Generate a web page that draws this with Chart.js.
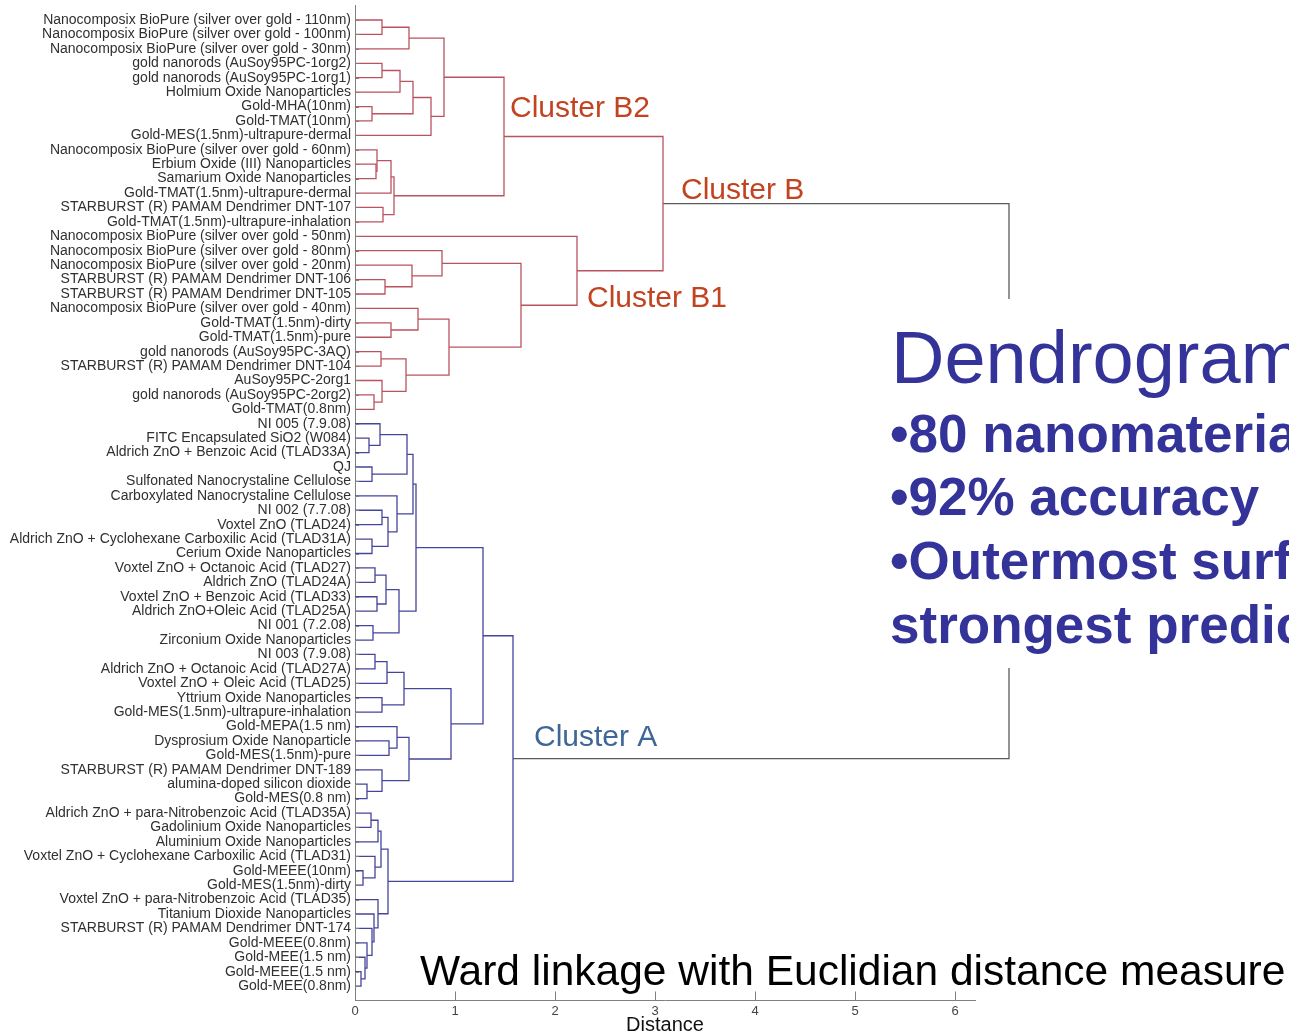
<!DOCTYPE html>
<html>
<head>
<meta charset="utf-8">
<script src="https://cdn.jsdelivr.net/npm/chart.js@4.4.1/dist/chart.umd.min.js"></script>
<style>
  html, body { margin: 0; padding: 0; background: #fff; overflow: hidden; }
  #wrap { width: 1289px; height: 1035px; position: relative; }
</style>
</head>
<body>
<div id="wrap"><canvas id="c" width="1289" height="1035"></canvas></div>
<script>
// Leaf labels, top to bottom
const leafLabels = [
  'Nanocomposix BioPure (silver over gold - 110nm)',
  'Nanocomposix BioPure (silver over gold - 100nm)',
  'Nanocomposix BioPure (silver over gold - 30nm)',
  'gold nanorods (AuSoy95PC-1org2)',
  'gold nanorods (AuSoy95PC-1org1)',
  'Holmium Oxide Nanoparticles',
  'Gold-MHA(10nm)',
  'Gold-TMAT(10nm)',
  'Gold-MES(1.5nm)-ultrapure-dermal',
  'Nanocomposix BioPure (silver over gold - 60nm)',
  'Erbium Oxide (III) Nanoparticles',
  'Samarium Oxide Nanoparticles',
  'Gold-TMAT(1.5nm)-ultrapure-dermal',
  'STARBURST (R) PAMAM Dendrimer DNT-107',
  'Gold-TMAT(1.5nm)-ultrapure-inhalation',
  'Nanocomposix BioPure (silver over gold - 50nm)',
  'Nanocomposix BioPure (silver over gold - 80nm)',
  'Nanocomposix BioPure (silver over gold - 20nm)',
  'STARBURST (R) PAMAM Dendrimer DNT-106',
  'STARBURST (R) PAMAM Dendrimer DNT-105',
  'Nanocomposix BioPure (silver over gold - 40nm)',
  'Gold-TMAT(1.5nm)-dirty',
  'Gold-TMAT(1.5nm)-pure',
  'gold nanorods (AuSoy95PC-3AQ)',
  'STARBURST (R) PAMAM Dendrimer DNT-104',
  'AuSoy95PC-2org1',
  'gold nanorods (AuSoy95PC-2org2)',
  'Gold-TMAT(0.8nm)',
  'NI 005 (7.9.08)',
  'FITC Encapsulated SiO2 (W084)',
  'Aldrich ZnO + Benzoic Acid (TLAD33A)',
  'QJ',
  'Sulfonated Nanocrystaline Cellulose',
  'Carboxylated Nanocrystaline Cellulose',
  'NI 002 (7.7.08)',
  'Voxtel ZnO (TLAD24)',
  'Aldrich ZnO + Cyclohexane Carboxilic Acid (TLAD31A)',
  'Cerium Oxide Nanoparticles',
  'Voxtel ZnO + Octanoic Acid (TLAD27)',
  'Aldrich ZnO (TLAD24A)',
  'Voxtel ZnO + Benzoic Acid (TLAD33)',
  'Aldrich ZnO+Oleic Acid (TLAD25A)',
  'NI 001 (7.2.08)',
  'Zirconium Oxide Nanoparticles',
  'NI 003 (7.9.08)',
  'Aldrich ZnO + Octanoic Acid (TLAD27A)',
  'Voxtel ZnO + Oleic Acid (TLAD25)',
  'Yttrium Oxide Nanoparticles',
  'Gold-MES(1.5nm)-ultrapure-inhalation',
  'Gold-MEPA(1.5 nm)',
  'Dysprosium Oxide Nanoparticle',
  'Gold-MES(1.5nm)-pure',
  'STARBURST (R) PAMAM Dendrimer DNT-189',
  'alumina-doped silicon dioxide',
  'Gold-MES(0.8 nm)',
  'Aldrich ZnO + para-Nitrobenzoic Acid (TLAD35A)',
  'Gadolinium Oxide Nanoparticles',
  'Aluminium Oxide Nanoparticles',
  'Voxtel ZnO + Cyclohexane Carboxilic Acid (TLAD31)',
  'Gold-MEEE(10nm)',
  'Gold-MES(1.5nm)-dirty',
  'Voxtel ZnO + para-Nitrobenzoic Acid (TLAD35)',
  'Titanium Dioxide Nanoparticles',
  'STARBURST (R) PAMAM Dendrimer DNT-174',
  'Gold-MEEE(0.8nm)',
  'Gold-MEE(1.5 nm)',
  'Gold-MEEE(1.5 nm)',
  'Gold-MEE(0.8nm)'
];

// Merges: [node id, child, child, distance]; numeric children are leaf positions (1 = top)
const clusterB2Merges = [
  ['b2a', 1, 2, 0.27], ['b2b', 'b2a', 3, 0.54],
  ['b2c', 4, 5, 0.27], ['b2d', 'b2c', 6, 0.45],
  ['b2e', 7, 8, 0.17], ['b2f', 'b2d', 'b2e', 0.58],
  ['b2g', 'b2f', 9, 0.76], ['b2h', 'b2b', 'b2g', 0.89],
  ['b2i', 11, 12, 0.21], ['b2j', 10, 'b2i', 0.22],
  ['b2k', 'b2j', 13, 0.36], ['b2l', 14, 15, 0.28],
  ['b2m', 'b2k', 'b2l', 0.39], ['B2', 'b2h', 'b2m', 1.49]
];
const clusterB1Merges = [
  ['b1a', 19, 20, 0.30], ['b1b', 18, 'b1a', 0.57], ['b1c', 17, 'b1b', 0.87],
  ['b1d', 22, 23, 0.36], ['b1e', 21, 'b1d', 0.63],
  ['b1f', 24, 25, 0.26], ['b1g', 27, 28, 0.19], ['b1h', 26, 'b1g', 0.27],
  ['b1i', 'b1f', 'b1h', 0.51], ['b1j', 'b1e', 'b1i', 0.94],
  ['b1k', 'b1c', 'b1j', 1.66], ['B1', 16, 'b1k', 2.22],
  ['B', 'B2', 'B1', 3.08]
];
const clusterAMerges = [
  ['a1', 30, 31, 0.14], ['a2', 29, 'a1', 0.25], ['a3', 32, 33, 0.17], ['a4', 'a2', 'a3', 0.52],
  ['a5', 35, 36, 0.27], ['a6', 37, 38, 0.17], ['a7', 'a5', 'a6', 0.33], ['a8', 34, 'a7', 0.42],
  ['a9', 'a4', 'a8', 0.58],
  ['a10', 39, 40, 0.20], ['a11', 41, 42, 0.22], ['a12', 'a10', 'a11', 0.31],
  ['a13', 43, 44, 0.18], ['a14', 'a12', 'a13', 0.44], ['a15', 'a9', 'a14', 0.61],
  ['a16', 45, 46, 0.20], ['a17', 'a16', 47, 0.32], ['a18', 48, 49, 0.27], ['a19', 'a17', 'a18', 0.49],
  ['a20', 51, 52, 0.34], ['a21', 50, 'a20', 0.42], ['a22', 54, 55, 0.12], ['a23', 53, 'a22', 0.27],
  ['a24', 'a21', 'a23', 0.54], ['a25', 'a19', 'a24', 0.96], ['a26', 'a15', 'a25', 1.28],
  ['a27', 56, 57, 0.16], ['a28', 'a27', 58, 0.23], ['a29', 60, 61, 0.08], ['a30', 59, 'a29', 0.20],
  ['a31', 'a28', 'a30', 0.26],
  ['a32', 67, 68, 0.06], ['a33', 66, 'a32', 0.10], ['a34', 65, 'a33', 0.12],
  ['a35', 64, 'a34', 0.17], ['a36', 63, 'a35', 0.19], ['a37', 62, 'a36', 0.23],
  ['a38', 'a31', 'a37', 0.33], ['A', 'a26', 'a38', 1.58]
];
const rootMerges = [['root', 'B', 'A', 6.54]];

const distanceTicks = [0, 1, 2, 3, 4, 5, 6];

// Node positions: height = merge distance, row = mean of child rows
const nodeRow = {}, nodeHeight = {};
const rowOf = c => typeof c === 'number' ? c : nodeRow[c];
const heightOf = c => typeof c === 'number' ? 0 : nodeHeight[c];

function linkDatasets(merges, color) {
  return merges.map(([id, a, b, h]) => {
    const ya = rowOf(a), yb = rowOf(b);
    nodeRow[id] = (ya + yb) / 2;
    nodeHeight[id] = h;
    return {
      data: [
        { x: heightOf(a), y: ya }, { x: h, y: ya },
        { x: h, y: yb }, { x: heightOf(b), y: yb }
      ],
      borderColor: color,
      borderWidth: 1.3,
      pointRadius: 0,
      fill: false,
      tension: 0,
      clip: false
    };
  });
}

const datasets = [
  ...linkDatasets(clusterB2Merges, '#b9535f'),
  ...linkDatasets(clusterB1Merges, '#b9535f'),
  ...linkDatasets(clusterAMerges, '#45459a'),
  ...linkDatasets(rootMerges, '#5a5a5a')
];

const FONT = '"Liberation Sans", Arial, Helvetica, sans-serif';

// Inner tick marks, annotation box and captions
const decorations = {
  id: 'decorations',
  afterDraw(chart) {
    const { ctx, scales: { x, y }, chartArea } = chart;
    ctx.save();
    ctx.strokeStyle = '#808080';
    ctx.lineWidth = 1;
    ctx.beginPath();
    leafLabels.forEach((_, i) => {
      const py = Math.round(y.getPixelForValue(i + 1)) + 0.5;
      ctx.moveTo(chartArea.left, py);
      ctx.lineTo(chartArea.left + 4, py);
    });
    distanceTicks.forEach(v => {
      const px = Math.round(x.getPixelForValue(v)) + 0.5;
      ctx.moveTo(px, chartArea.bottom);
      ctx.lineTo(px, chartArea.bottom - 9);
    });
    ctx.stroke();

    // cluster captions
    ctx.textBaseline = 'alphabetic';
    ctx.textAlign = 'left';
    ctx.font = '30px ' + FONT;
    ctx.fillStyle = '#c2431f';
    ctx.fillText('Cluster B2', 510, 117);
    ctx.fillText('Cluster B', 681, 199);
    ctx.fillText('Cluster B1', 587, 307);
    ctx.fillStyle = '#3e6696';
    ctx.fillText('Cluster A', 534, 746);

    // summary panel
    ctx.fillStyle = '#ffffff';
    ctx.fillRect(875, 299, 414, 369);
    ctx.fillStyle = '#333399';
    ctx.font = '74px ' + FONT;
    ctx.fillText('Dendrogram', 891, 383);
    ctx.font = 'bold 53px ' + FONT;
    ctx.fillText('\u202280 nanomaterials', 890, 452);
    ctx.fillText('\u202292% accuracy', 890, 515);
    ctx.fillText('\u2022Outermost surface chemistry', 890, 579);
    ctx.fillText('strongest predictor', 890, 643);

    // method caption
    ctx.fillStyle = '#000000';
    ctx.font = '42.5px ' + FONT;
    ctx.fillText('Ward linkage with Euclidian distance measure', 420, 985);
    ctx.restore();
  }
};

new Chart(document.getElementById('c'), {
  type: 'line',
  data: { datasets },
  plugins: [decorations],
  options: {
    responsive: false,
    animation: false,
    events: [],
    layout: { padding: { top: 5.6, right: 314, left: 0, bottom: 0 } },
    plugins: { legend: { display: false }, tooltip: { enabled: false }, title: { display: false } },
    scales: {
      x: {
        type: 'linear',
        position: 'bottom',
        min: 0,
        max: 6.2,
        afterBuildTicks: s => { s.ticks = distanceTicks.map(v => ({ value: v })); },
        afterFit: s => { s.height = 34.5; s.paddingLeft = 0; s.paddingRight = 0; },
        ticks: { font: { family: FONT, size: 13 }, color: '#444', padding: 3, maxRotation: 0 },
        grid: { display: true, drawOnChartArea: false, drawTicks: false },
        border: { display: true, color: '#808080', width: 1 },
        title: { display: true, text: 'Distance', font: { family: FONT, size: 20 }, color: '#111', padding: { top: 0, bottom: -2 } }
      },
      y: {
        type: 'linear',
        reverse: true,
        min: 0,
        max: 69,
        afterBuildTicks: s => { s.ticks = leafLabels.map((_, i) => ({ value: i + 1 })); },
        afterFit: s => { s.width = 355; s.paddingTop = 0; s.paddingBottom = 0; },
        ticks: {
          autoSkip: false,
          font: { family: FONT, size: 14 },
          color: '#303030',
          padding: 4,
          callback: v => leafLabels[v - 1]
        },
        grid: { display: true, drawOnChartArea: false, drawTicks: false },
        border: { display: true, color: '#808080', width: 1 }
      }
    }
  }
});
</script>
</body>
</html>
